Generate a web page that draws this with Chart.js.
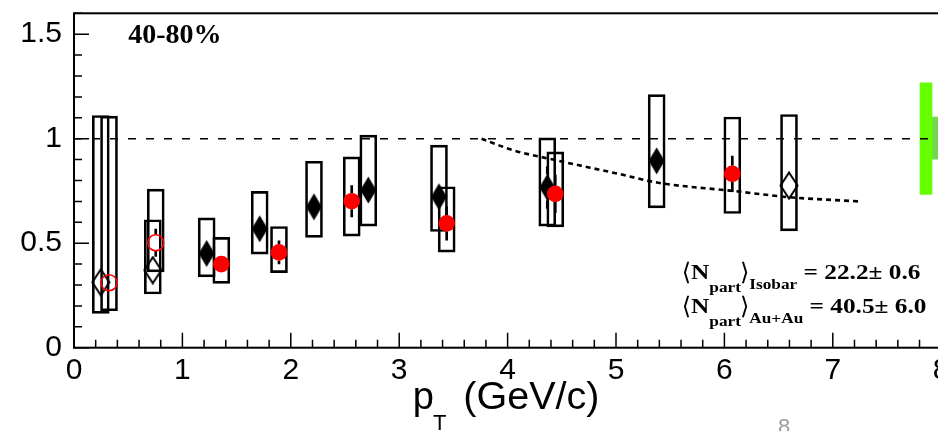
<!DOCTYPE html>
<html><head><meta charset="utf-8">
<script src="https://cdn.jsdelivr.net/npm/chart.js@4.4.0/dist/chart.umd.min.js"></script>
<style>
html,body{margin:0;padding:0;overflow:hidden;background:#fff;width:938px;height:431px}
#wrap{width:960px;height:431px}
</style></head>
<body><div id="wrap"><canvas id="c" width="960" height="431"></canvas></div>
<script>
// ---------- data ----------
const filledDiamondX = [1.224, 1.713, 2.214, 2.715, 3.367, 4.366, 5.375];
const filledDiamondY = [0.451, 0.569, 0.674, 0.754, 0.722, 0.767, 0.894];
const filledDiamondStat = [0.03, 0.03, 0.03, 0.04, 0.05, 0.10, 0.05];
const filledDiamondSysLo = [0.339, 0.448, 0.528, 0.582, 0.556, 0.582, 0.669];
const filledDiamondSysHi = [0.621, 0.748, 0.892, 1.017, 0.969, 1.004, 1.211];

const openDiamondX = [0.247, 0.727, 6.596];
const openDiamondY = [0.313, 0.371, 0.776];
const openDiamondStat = [0.03, 0.04, 0.06];
const openDiamondSysLo = [0.164, 0.257, 0.559];
const openDiamondSysHi = [1.111, 0.612, 1.116];

const redFilledX = [1.359, 1.891, 2.562, 3.438, 4.440, 6.073];
const redFilledY = [0.400, 0.456, 0.701, 0.595, 0.736, 0.832];
const redFilledStat = [0.03, 0.055, 0.075, 0.08, 0.09, 0.085];
const redFilledSysLo = [0.308, 0.359, 0.534, 0.457, 0.578, 0.642];
const redFilledSysHi = [0.528, 0.580, 0.913, 0.770, 0.937, 1.104];

const redOpenX = [0.323, 0.754];
const redOpenY = [0.311, 0.502];
const redOpenStat = [0.03, 0.065];
const redOpenSysLo = [0.177, 0.363];
const redOpenSysHi = [1.108, 0.759];

const curveX = [3.76, 4.05, 4.42, 5.04, 5.38, 6.08, 6.60, 7.24];
const curveY = [1.0, 0.945, 0.90, 0.83, 0.79, 0.75, 0.72, 0.70];

const unityX = [0, 8];
const unityY = [1, 1];

const normX = [7.86, 7.97];
const normLo = [0.733, 0.902];
const normHi = [1.267, 1.103];

const xTickValues = [0, 1, 2, 3, 4, 5, 6, 7, 8];
const yTickValues = [0, 0.5, 1, 1.5];

// ---------- helpers ----------
const pts = (xs, ys) => xs.map((x, i) => ({x, y: ys[i]}));
const ranges = (xs, lo, hi) => xs.map((x, i) => ({x, y: [lo[i], hi[i]]}));
// error bar split into two pieces outside the marker (gap = marker half-height in y units)
function statRanges(xs, ys, e, gap) {
  const out = [];
  xs.forEach((x, i) => {
    if (e[i] > gap) {
      out.push({x, y: [ys[i] - e[i], ys[i] - gap]});
      out.push({x, y: [ys[i] + gap, ys[i] + e[i]]});
    }
  });
  return out;
}

function diamondCanvas(w, h, filled) {
  const c = document.createElement('canvas');
  c.width = w + 3; c.height = h + 3;
  const g = c.getContext('2d');
  g.beginPath();
  g.moveTo(c.width / 2, 1.5);
  g.lineTo(c.width - 1.5, c.height / 2);
  g.lineTo(c.width / 2, c.height - 1.5);
  g.lineTo(1.5, c.height / 2);
  g.closePath();
  if (filled) { g.fillStyle = '#000'; g.fill(); }
  else { g.lineWidth = 2; g.strokeStyle = '#000'; g.stroke(); }
  return c;
}
const filledDiamond = diamondCanvas(16, 27, true);
const openDiamond = diamondCanvas(17, 26, false);

function boxDs(xs, lo, hi) {
  return {type: 'bar', data: ranges(xs, lo, hi), backgroundColor: 'rgba(0,0,0,0)',
    borderColor: '#000', borderWidth: 2, borderSkipped: false, barThickness: 17,
    grouped: false, order: 5};
}
function statDs(xs, ys, e, gap) {
  return {type: 'bar', data: statRanges(xs, ys, e, gap), backgroundColor: '#000',
    borderWidth: 0, barThickness: 2, grouped: false, order: 4};
}

const datasets = [
  {type: 'bar', data: ranges(normX.slice(0,1), normLo.slice(0,1), normHi.slice(0,1)), backgroundColor: '#66ff00',
    borderWidth: 0, barThickness: 12, grouped: false, order: 7},
  {type: 'bar', data: ranges(normX.slice(1), normLo.slice(1), normHi.slice(1)), backgroundColor: '#72d64e',
    borderWidth: 0, barThickness: 12, grouped: false, order: 7},
  boxDs(filledDiamondX, filledDiamondSysLo, filledDiamondSysHi),
  boxDs(openDiamondX, openDiamondSysLo, openDiamondSysHi),
  boxDs(redFilledX, redFilledSysLo, redFilledSysHi),
  boxDs(redOpenX, redOpenSysLo, redOpenSysHi),
  statDs(filledDiamondX, filledDiamondY, filledDiamondStat, 0.064),
  statDs(openDiamondX, openDiamondY, openDiamondStat, 0.064),
  statDs(redFilledX, redFilledY, redFilledStat, 0.04),
  statDs(redOpenX, redOpenY, redOpenStat, 0.04),
  {type: 'line', data: pts(unityX, unityY), borderColor: '#000', borderWidth: 1.5,
    borderDash: [8, 10], pointRadius: 0, fill: false, order: 3},
  {type: 'line', data: pts(curveX, curveY), borderColor: '#000', borderWidth: 2.6,
    borderDash: [5, 4], pointRadius: 0, fill: false, cubicInterpolationMode: 'monotone', order: 3},
  {type: 'scatter', data: pts(filledDiamondX, filledDiamondY), pointStyle: filledDiamond, order: 1},
  {type: 'scatter', data: pts(openDiamondX, openDiamondY), pointStyle: openDiamond, order: 1},
  {type: 'scatter', data: pts(redFilledX, redFilledY), pointStyle: 'circle', pointRadius: 8.3,
    backgroundColor: '#ff0000', borderColor: '#ff0000', borderWidth: 0, order: 0},
  {type: 'scatter', data: pts(redOpenX, redOpenY), pointStyle: 'circle', pointRadius: 8,
    backgroundColor: 'rgba(0,0,0,0)', borderColor: '#ff0000', borderWidth: 1.6, order: 0}
];

function seg(ctx, text, x, y, font, sx) {
  ctx.save();
  ctx.font = font;
  ctx.translate(x, y);
  ctx.scale(sx, 1);
  ctx.fillText(text, 0, 0);
  const w = ctx.measureText(text).width * sx;
  ctx.restore();
  return x + w;
}

const overlay = {
  id: 'overlay',
  afterDraw(chart) {
    const ctx = chart.ctx, ca = chart.chartArea;
    const xs = chart.scales.x, ys = chart.scales.y;
    ctx.save();
    ctx.strokeStyle = '#000';
    ctx.lineWidth = 1.5;
    ctx.beginPath();
    for (let k = 0; k <= 40; k++) {
      const px = xs.getPixelForValue(k * 0.2);
      const len = k % 5 === 0 ? 15 : 8;
      ctx.moveTo(px, ca.bottom); ctx.lineTo(px, ca.bottom - len);
    }
    for (let k = 0; k <= 16; k++) {
      const py = ys.getPixelForValue(k * 0.1);
      const len = k % 5 === 0 ? 15 : 8;
      ctx.moveTo(ca.left, py); ctx.lineTo(ca.left + len, py);
    }
    ctx.stroke();
    ctx.lineWidth = 2;
    ctx.strokeRect(ca.left, ca.top, ca.right - ca.left, ca.bottom - ca.top);

    ctx.fillStyle = '#000';
    ctx.textBaseline = 'alphabetic';
    ctx.textAlign = 'left';
    // centrality label
    seg(ctx, '40-80%', ca.left + 54.3, ca.top + 30, 'bold 28px "Liberation Serif"', 1);

    // axis title
    const L = ca.left;
    seg(ctx, 'p', L + 338.7, 409, '38px "Liberation Sans"', 1);
    seg(ctx, 'T', L + 359, 430, '22px "Liberation Sans"', 1);
    seg(ctx, '(GeV/c)', L + 389.3, 409, '38px "Liberation Sans"', 1.04);

    // Npart annotations
    const big = 'bold 22px "Liberation Serif"', small = 'bold 15px "Liberation Serif"', sx = 1.15;
    const br = '24px "DejaVu Serif"';
    const lines = [
      {y: 279.3, sub: 'Isobar', val: ' = 22.2\u00b1 0.6'},
      {y: 313.3, sub: 'Au+Au', val: ' = 40.5\u00b1 6.0'}
    ];
    lines.forEach(l => {
      let x = L + 607.7;
      x = seg(ctx, '\u27e8', x, l.y + 1, br, 1);
      x = seg(ctx, 'N', x, l.y, big, sx);
      x = seg(ctx, 'part', x, l.y + 13, small, sx);
      x = seg(ctx, '\u27e9', x - 1, l.y + 1, br, 1);
      x = seg(ctx, l.sub, x, l.y + 10, small, sx);
      seg(ctx, l.val, x, l.y, big, sx);
    });

    // stray page glyph at bottom
    ctx.fillStyle = '#9a9a9a';
    ctx.textAlign = 'center';
    ctx.font = '22px "Liberation Sans"';
    ctx.fillText('8', 784, 434);
    ctx.restore();
  }
};

const tickFont = {family: '"Liberation Sans", Arial, sans-serif', size: 30};

new Chart(document.getElementById('c'), {
  type: 'scatter',
  data: {datasets},
  options: {
    responsive: false,
    animation: false,
    devicePixelRatio: 1,
    events: [],
    layout: {padding: {top: 13.3, right: 18.8, left: 0, bottom: 0}},
    plugins: {legend: {display: false}, tooltip: {enabled: false}},
    scales: {
      x: {
        type: 'linear', min: 0, max: 8, offset: false,
        grid: {display: false, offset: false, drawTicks: false},
        border: {display: false},
        afterBuildTicks: s => { s.ticks = xTickValues.map(v => ({value: v})); },
        afterFit: s => { s.height = 83.3; s.paddingLeft = 0; s.paddingRight = 0; },
        ticks: {padding: 5.5, font: tickFont, color: '#000', maxRotation: 0, autoSkip: false,
          callback: v => String(v)}
      },
      y: {
        type: 'linear', min: 0, max: 1.6,
        grid: {display: false, drawTicks: false},
        border: {display: false},
        afterBuildTicks: s => { s.ticks = yTickValues.map(v => ({value: v})); },
        afterFit: s => { s.width = 74; s.paddingTop = 0; s.paddingBottom = 0; },
        ticks: {padding: 12, font: tickFont, color: '#000', autoSkip: false,
          callback: v => String(v)}
      }
    }
  },
  plugins: [overlay]
});
</script>
</body></html>
